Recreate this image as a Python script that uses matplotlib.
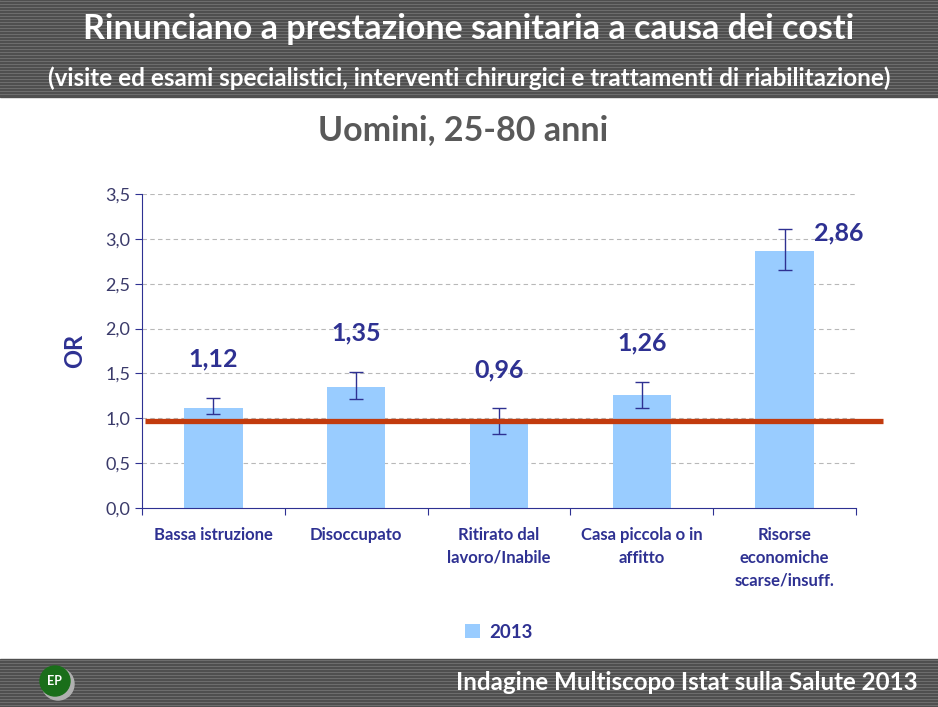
import numpy as np
import matplotlib.pyplot as plt
from matplotlib.patches import Rectangle, Circle

plt.rcParams['font.family'] = ['Lato', 'DejaVu Sans']

# Dati
categorie = ["Bassa istruzione", "Disoccupato", "Ritirato dal\nlavoro/Inabile",
             "Casa piccola o in\naffitto", "Risorse\neconomiche\nscarse/insuff."]
valori = [1.12, 1.35, 0.96, 1.26, 2.86]
ic_basso = [1.05, 1.21, 0.83, 1.12, 2.65]
ic_alto = [1.23, 1.52, 1.11, 1.41, 3.11]
etichette = ["1,12", "1,35", "0,96", "1,26", "2,86"]
riferimento = 0.97
anno = "2013"

navy = "#2E3192"
blu_barra = "#99CCFF"
rosso = "#C23B0E"

W, H = 938, 707
fig = plt.figure(figsize=(W / 100, H / 100), dpi=100)

# Sfondo con bande a righe
bg = fig.add_axes([0, 0, 1, 1])
bg.set_xlim(0, W)
bg.set_ylim(H, 0)
bg.axis("off")
for y0, y1 in [(0, 97), (659, 707)]:
    bg.add_patch(Rectangle((0, y0), W, y1 - y0, color="#4f4f4f", zorder=0))
    for yy in np.arange(y0 + 1, y1, 3):
        bg.plot([0, W], [yy, yy], color="#6e6e6e", lw=0.7, zorder=1)
bg.text(W / 2, 29, "Rinunciano a prestazione sanitaria a causa dei costi",
        color="white", fontsize=24.5, fontweight="bold", ha="center", va="center")
bg.text(469, 78, "(visite ed esami specialistici, interventi chirurgici e trattamenti di riabilitazione)",
        color="white", fontsize=17.5, fontweight="bold", ha="center", va="center")
bg.text(918, 682, "Indagine Multiscopo Istat sulla Salute 2013",
        color="white", fontsize=17.4, fontweight="bold", ha="right", va="center")
bg.add_patch(Circle((58, 684), 16, color="#b0b0b0", zorder=2))
bg.add_patch(Circle((55, 681), 15, color="#1a6e1a", zorder=3))
bg.text(54, 681, "EP", color="white", fontsize=9, fontweight="bold",
        ha="center", va="center", zorder=4)
bg.text(463, 130, "Uomini, 25-80 anni", color="#595959", fontsize=24.5,
        fontweight="bold", ha="center", va="center")

# Grafico
ax = fig.add_axes([142 / W, 1 - 508 / H, 714 / W, 314 / H])
x = np.arange(len(valori))
err = [np.array(valori) - np.array(ic_basso), np.array(ic_alto) - np.array(valori)]
ax.bar(x, valori, width=0.41, color=blu_barra, zorder=2, label=anno)
ax.errorbar(x, valori, yerr=err, fmt="none", ecolor=navy, elinewidth=1,
            capsize=5, capthick=1, zorder=3)
ax.plot([-0.479, 4.69], [riferimento, riferimento], color=rosso, lw=3.8,
        zorder=4, clip_on=False, solid_capstyle="butt")

ax.set_xlim(-0.5, 4.5)
ax.set_ylim(0, 3.5)
yt = np.arange(0, 3.51, 0.5)
ax.set_yticks(yt)
ax.set_yticklabels([f"{v:.1f}".replace(".", ",") for v in yt], fontsize=13, color="#3a3a6a")
for v in yt[1:]:
    ax.axhline(v, color="#b8b8b8", lw=0.8, ls=(0, (4, 3)), zorder=1)
ax.set_xticks(np.arange(-0.5, 4.51, 1))
ax.set_xticklabels([])
ax.set_xticks(x, minor=True)
ax.set_xticklabels(categorie, minor=True, fontsize=12, fontweight="bold",
                   color=navy, linespacing=1.5, va="top")
ax.tick_params(axis="x", which="minor", length=0, pad=14)
ax.tick_params(axis="x", which="major", length=5, color=navy, direction="out")
ax.tick_params(axis="y", length=5, color=navy, direction="out")
for s in ["top", "right"]:
    ax.spines[s].set_visible(False)
for s in ["left", "bottom"]:
    ax.spines[s].set_color(navy)
ax.set_ylabel("OR", fontsize=17, fontweight="bold", color=navy, labelpad=14)

for i, (v, t) in enumerate(zip(ic_alto, etichette)):
    if i == len(valori) - 1:
        ax.annotate(t, (i, v), xytext=(39, -3), textcoords="offset points",
                    ha="center", va="center", fontsize=18, fontweight="bold", color=navy)
    else:
        ax.annotate(t, (i, v), xytext=(0, 28), textcoords="offset points",
                    ha="center", va="center", fontsize=18, fontweight="bold", color=navy)

ax.legend(loc="center", bbox_to_anchor=(0.5, (508 - 632) / 314), frameon=False,
          prop={"weight": "bold", "size": 13.5}, labelcolor=navy,
          handlelength=0.8, handleheight=0.8, handletextpad=0.5)

fig.savefig("out.png", dpi=100)
